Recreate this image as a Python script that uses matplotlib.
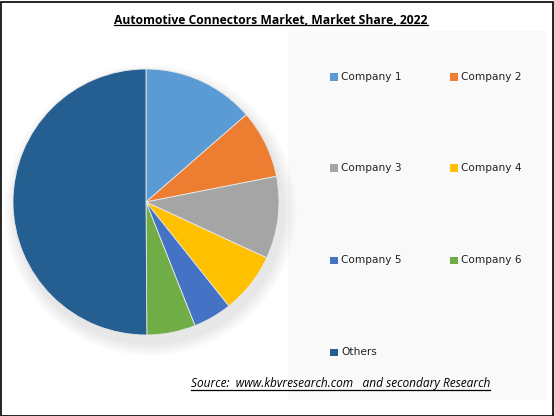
import matplotlib
matplotlib.use("Agg")
import matplotlib.pyplot as plt
from matplotlib.patches import Rectangle, Circle
from matplotlib.lines import Line2D

labels = ["Company 1", "Company 2", "Company 3", "Company 4", "Company 5", "Company 6", "Others"]
shares = [13.6, 8.3, 10.0, 7.4, 4.7, 5.9, 50.1]
colors = ["#5B9BD5", "#ED7D31", "#A5A5A5", "#FFC000", "#4472C4", "#70AD47", "#255E91"]
title = "Automotive Connectors Market, Market Share, 2022"
source = "Source:  www.kbvresearch.com   and secondary Research"

W, H = 554, 416
fig = plt.figure(figsize=(W / 100, H / 100), dpi=100)
fig.patch.set_facecolor("white")

# figure border
fig.add_artist(Rectangle((0.5 / W, 0.5 / H), (W - 2) / W, (H - 2) / H, transform=fig.transFigure,
                         fill=False, edgecolor="black", linewidth=1.2))
# legend background panel
fig.add_artist(Rectangle((288 / W, (H - 400) / H), (546 - 288) / W, (400 - 31) / H,
                         transform=fig.transFigure, facecolor="#f9f9f9", edgecolor="none", zorder=0))

# pie axes: center (146,202) px, radius 133
cx, cy, r = 146, 202, 133
pad = 25
ax = fig.add_axes([(cx - r - pad) / W, (H - cy - r - pad) / H, 2 * (r + pad) / W, 2 * (r + pad) / H])
lim = (r + pad) / r
ax.set_xlim(-lim, lim)
ax.set_ylim(-lim, lim)
ax.set_aspect("equal")
ax.axis("off")

# soft shadow
n = 12
for i in range(n):
    rad = 1.0 + 0.10 * (1 - i / n)
    ax.add_patch(Circle((0.03, -0.06), rad, facecolor="black", alpha=0.007, edgecolor="none", zorder=0))

ax.pie(shares, colors=colors, startangle=90, counterclock=False, radius=1.0,
       wedgeprops=dict(linewidth=0.6, edgecolor="#e8e8e8"))
ax.set_xlim(-lim, lim)
ax.set_ylim(-lim, lim)

# legend entries
col_x = [330, 450]
row_y = [77, 168, 260, 352]
for i, (lab, col) in enumerate(zip(labels, colors)):
    x = col_x[i % 2]
    y = row_y[i // 2]
    fig.add_artist(Rectangle((x / W, (H - y - 3.5) / H), 7.5 / W, 7 / H, transform=fig.transFigure,
                             facecolor=col, edgecolor="none"))
    fig.text((x + 11) / W, (H - y) / H, lab, fontsize=7.6, family="DejaVu Sans", color="#222222",
             va="center", ha="left")

# title with underline
t = fig.text(271 / W, (H - 20) / H, title, fontsize=8.7, fontweight="bold", family="Open Sans",
             ha="center", va="center", color="black")
s = fig.text(490 / W, (H - 384) / H, source, fontsize=8.6, style="italic", family="Open Sans",
             ha="right", va="center", color="black")
fig.canvas.draw()
rend = fig.canvas.get_renderer()
for txt, off in ((t, 1.5), (s, 1.0)):
    bb = txt.get_window_extent(rend)
    yline = bb.y0 + off
    fig.add_artist(Line2D([bb.x0 / W, bb.x1 / W], [yline / H, yline / H], transform=fig.transFigure,
                          color="black", linewidth=0.9))

fig.savefig("out.png", dpi=100, facecolor="white")
